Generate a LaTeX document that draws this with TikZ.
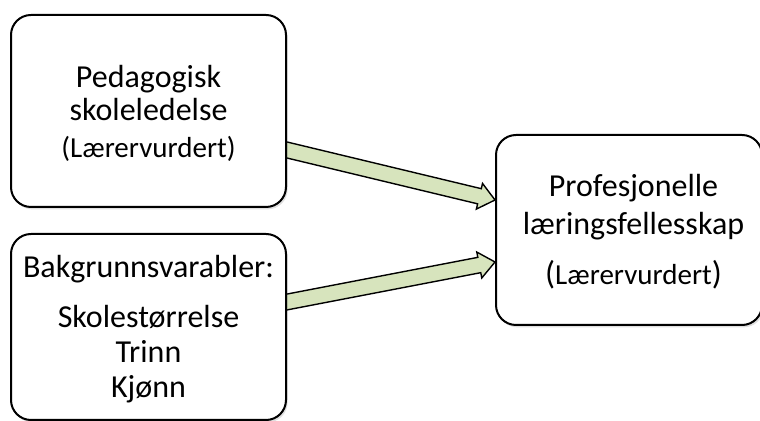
\documentclass[tikz,border=0pt]{standalone}
\usepackage{fontspec}
\setmainfont{Carlito}
\usetikzlibrary{calc,shadows}
\definecolor{arrowgreen}{HTML}{D7E4BD}
\pgfdeclarelayer{behind}
\pgfsetlayers{behind,main}
\begin{document}
\begin{tikzpicture}[x=0.5pt,y=-0.5pt,
  box/.style={draw=black, line width=1pt, rounded corners=10pt, fill=white,
    inner sep=0pt, minimum width=137.5pt,
    drop shadow={opacity=0.25, shadow xshift=0.8pt, shadow yshift=-1.2pt}},
  txt/.style={inner sep=0pt, anchor=base, font=\fontsize{16}{19}\selectfont},
  smalltxt/.style={txt, font=\fontsize{14.5}{17}\selectfont},
  blockarrow/.style={draw=black, line width=0.7pt, fill=arrowgreen, line join=miter}]
\useasboundingbox (0,0) rectangle (760,421);
\clip (0,0) rectangle (760,421);

% boxes
\node (ped) [box, minimum height=96pt]   at (148.5,111) {};
\node (bg)  [box, minimum height=93pt]   at (148.5,327) {};
\node (pl)  [box, minimum height=95pt, minimum width=133pt] at (629,230) {};

% box texts
\node (pedA) [txt]      at ($(ped.center)+(0,-23)$) {Pedagogisk};
\node (pedB) [txt]      at ($(ped.center)+(0,10)$)  {skoleledelse};
\node (pedC) [smalltxt] at ($(ped.center)+(0,47)$)  {(Lærervurdert)};

\node (bgA) [txt] at ($(bg.center)+(0,-49)$) {Bakgrunnsvarabler:};
\node (bgB) [txt] at ($(bg.center)+(0,1)$)   {Skolestørrelse};
\node (bgC) [txt] at ($(bg.center)+(0,36)$)  {Trinn};
\node (bgD) [txt] at ($(bg.center)+(0,71)$)  {Kjønn};

\node (plA) [txt] at ($(pl.center)+(4.5,-33)$) {Profesjonelle};
\node (plB) [txt] at ($(pl.center)+(4.5,5)$)   {læringsfellesskap};
\node (plC) [smalltxt] at ($(pl.center)+(4.5,55)$)
  {{\fontsize{16.5}{19}\selectfont(}Lærervurdert{\fontsize{16.5}{19}\selectfont)}};

% connector end points
\coordinate (a1) at ($(ped.east)+(0,39)$);
\coordinate (b1) at ($(pl.west)+(0,-30)$);
\coordinate (a2) at ($(bg.east)+(0,-25)$);
\coordinate (b2) at ($(pl.west)+(0,32)$);

% block arrows, drawn behind the boxes
\begin{pgfonlayer}{behind}
\foreach \a/\b in {a1/b1, a2/b2}{
  \coordinate (s) at ($(\a)!-6pt!(\b)$);
  \coordinate (h) at ($(\b)!8pt!(\a)$);
  \draw[blockarrow]
    ($(s)!3.9pt!90:(\b)$) -- ($(h)!3.9pt!90:(\b)$) -- ($(h)!6.6pt!90:(\b)$)
    -- (\b) -- ($(h)!6.6pt!-90:(\b)$) -- ($(h)!3.9pt!-90:(\b)$)
    -- ($(s)!3.9pt!-90:(\b)$) -- cycle;
}
\end{pgfonlayer}
\end{tikzpicture}
\end{document}
